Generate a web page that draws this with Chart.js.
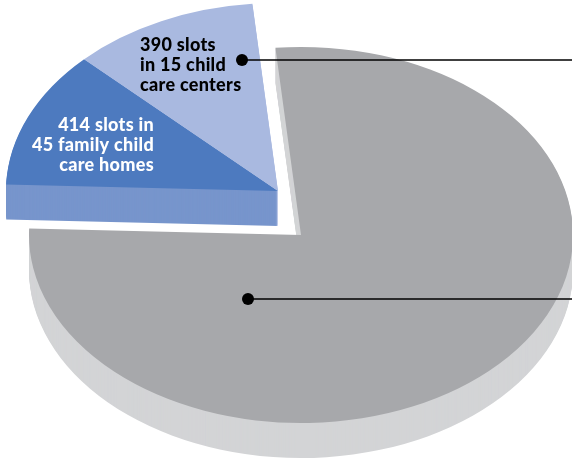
<!DOCTYPE html>
<html>
<head>
<meta charset="utf-8">
<script src="https://cdn.jsdelivr.net/npm/chart.js"></script>
<style>
  html, body { margin: 0; padding: 0; background: #fff; }
  #wrap { width: 572px; height: 462px; }
</style>
</head>
<body>
<div id="wrap"><canvas id="pie"></canvas></div>
<script>
// slot counts per provider type
const slotCounts = [414, 390, 2700];
const sliceNames = ['Family child care homes', 'Child care centers', 'Other'];
const sliceLabels = [
  ['414 slots in', '45 family child', 'care homes'],
  ['390 slots', 'in 15 child', 'care centers'],
  []
];
const topColors = ['#4d7abf', '#a9b9e0', '#a7a8ab'];
const sideColors = ['#7795cc', '#c4cfeb', '#d3d4d6'];
const labelColors = ['#ffffff', '#000000', '#000000'];

// draws the pie as a flattened disc with a visible edge, plus labels and leader lines
const tiltedPie = {
  id: 'tiltedPie',
  beforeDatasetsDraw(chart, args, opts) {
    const ctx = chart.ctx;
    const arcs = chart.getDatasetMeta(0).data;

    const sidePath = (arc, dx, dy) => {
      ctx.save();
      ctx.translate(arc.x + dx, arc.y + dy);
      ctx.scale(opts.stretchX, 1);
      ctx.beginPath();
      ctx.moveTo(0, 0);
      ctx.arc(0, 0, arc.outerRadius, arc.startAngle, arc.endAngle);
      ctx.closePath();
      ctx.fill();
      ctx.restore();
    };

    // edge: stack the slice shapes downwards
    for (let d = opts.depth; d > 0; d--) {
      arcs.forEach((arc, i) => {
        const [ex, ey] = opts.explode[i];
        ctx.fillStyle = sideColors[i];
        sidePath(arc, ex, ey + d);
      });
    }

    // top faces
    arcs.forEach((arc, i) => {
      const [ex, ey] = opts.explode[i];
      ctx.save();
      ctx.translate(arc.x + ex, arc.y + ey);
      ctx.scale(opts.stretchX, 1);
      ctx.translate(-arc.x, -arc.y);
      arc.draw(ctx);
      ctx.restore();
    });

    // slice labels
    ctx.save();
    ctx.font = opts.font;
    ctx.letterSpacing = opts.letterSpacing;
    arcs.forEach((arc, i) => {
      const lines = sliceLabels[i];
      if (!lines.length) return;
      const [ex, ey] = opts.explode[i];
      const [lx, ly, align] = opts.labelAt[i];
      ctx.fillStyle = labelColors[i];
      ctx.textAlign = align;
      ctx.textBaseline = 'alphabetic';
      lines.forEach((t, k) => {
        ctx.fillText(t, arc.x + ex + lx, arc.y + ey + ly + k * opts.lineHeight);
      });
    });
    ctx.restore();

    // leader dots and lines running off to the right
    ctx.save();
    ctx.fillStyle = '#000';
    ctx.strokeStyle = '#000';
    ctx.lineWidth = 1.5;
    opts.leaders.forEach(([i, lx, ly]) => {
      const arc = arcs[i];
      const [ex, ey] = opts.explode[i];
      const px = arc.x + ex + lx, py = arc.y + ey + ly;
      ctx.beginPath();
      ctx.moveTo(px, py);
      ctx.lineTo(chart.width, py);
      ctx.stroke();
      ctx.beginPath();
      ctx.arc(px, py, 6, 0, Math.PI * 2);
      ctx.fill();
    });
    ctx.restore();

    return false;
  }
};

new Chart(document.getElementById('pie'), {
  type: 'pie',
  data: {
    labels: sliceNames,
    datasets: [{
      data: slotCounts,
      backgroundColor: topColors,
      borderWidth: 0
    }]
  },
  options: {
    responsive: true,
    maintainAspectRatio: false,
    animation: false,
    rotation: 272,
    layout: { padding: { left: 30, right: 0, top: 47, bottom: 39 } },
    plugins: {
      legend: { display: false },
      tooltip: { enabled: false },
      tiltedPie: {
        stretchX: 272 / 188,
        depth: 35,
        explode: [[-23, -44], [-23, -44], [0, 0]],
        font: '900 18px Lato',
        letterSpacing: '0.3px',
        lineHeight: 20,
        labelAt: [[-124, -60, 'right'], [-138, -140, 'left'], [0, 0, 'left']],
        leaders: [[1, -36, -131], [2, -53, 64]]
      }
    }
  },
  plugins: [tiltedPie]
});
</script>
</body>
</html>
